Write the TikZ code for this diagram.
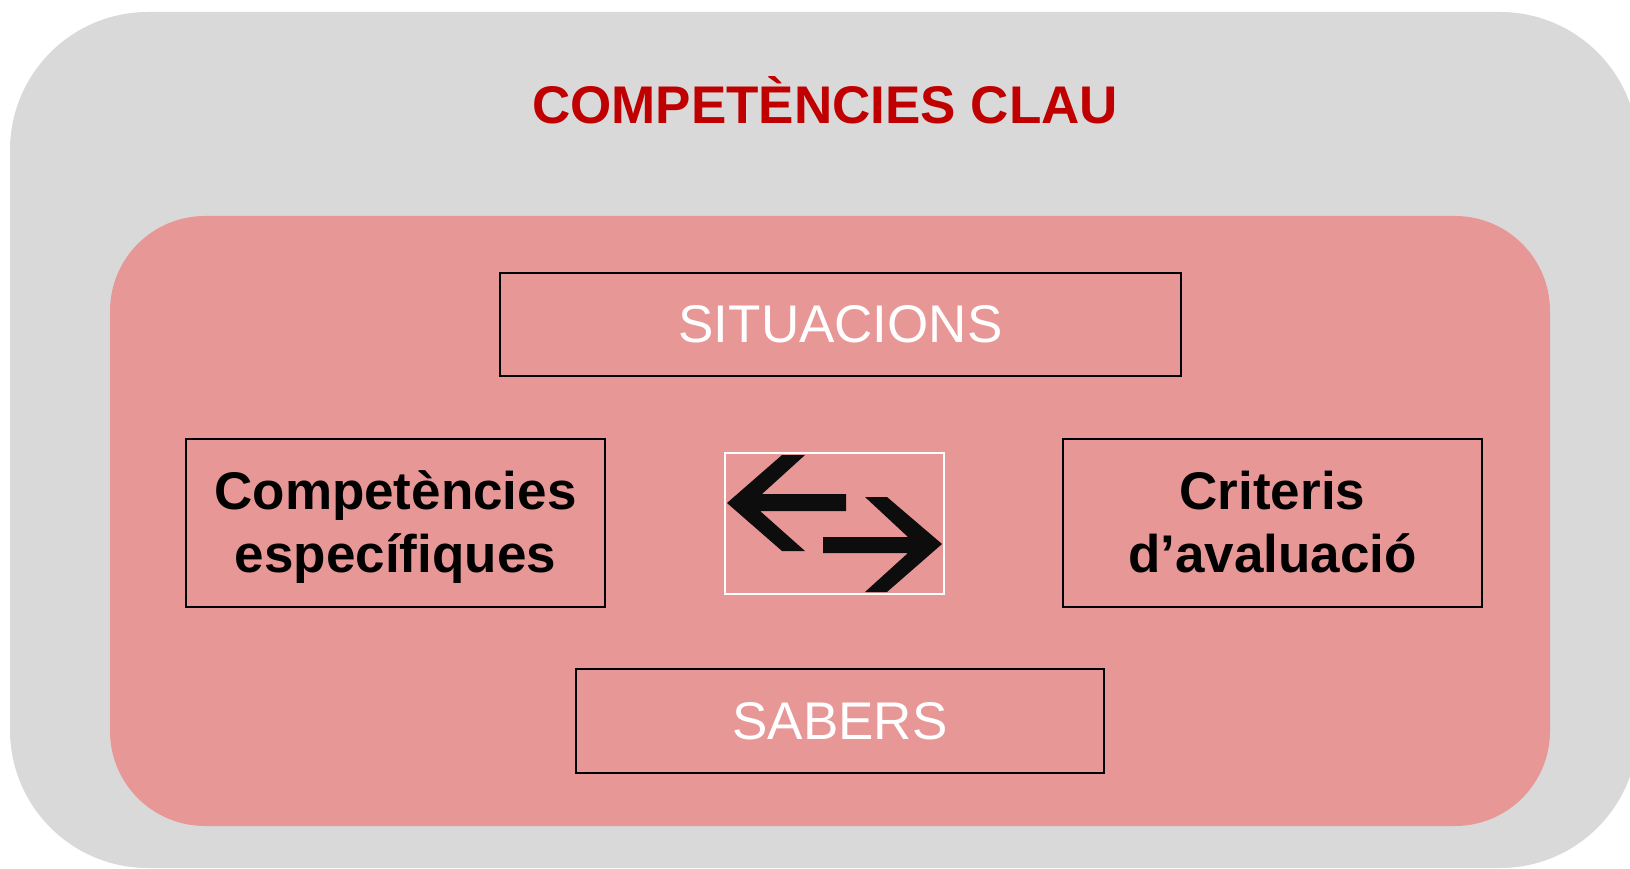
\documentclass[tikz,border=0pt]{standalone}
\usepackage{fontspec}
\setmainfont{Liberation Sans}
\definecolor{fonsgris}{HTML}{D9D9D9}
\definecolor{fonsrosa}{HTML}{E89797}
\definecolor{titolvermell}{HTML}{C00000}
\definecolor{fletxa}{HTML}{0D0D0D}
\newcommand{\igual}{\vphantom{Èg}}
\tikzset{
  caixa/.style={draw=black, line width=1.5pt, inner sep=0pt, align=center},
  blanc/.style={text=white, font=\fontsize{53}{60}\selectfont},
  negreta/.style={text=black, font=\fontsize{53}{63}\selectfont\bfseries},
}
\begin{document}
\begin{tikzpicture}[x=1pt,y=-1pt]
  \clip (0,0) rectangle (1630,869);
  \fill[fonsgris, rounded corners=138pt] (10,12) rectangle (1638,868);
  \fill[fonsrosa, rounded corners=95pt] (110,216) rectangle (1550,826);
  \node[text=titolvermell, font=\fontsize{53}{60}\selectfont\bfseries] (titol) at (825,100) {COMPETÈNCIES CLAU};

  \node[caixa, blanc, minimum width=681pt, minimum height=103pt] (situacions) at (840.5,324.5) {SITUACIONS};
  \node[caixa, negreta, minimum width=419pt, minimum height=168pt] (especifiques) at (395.5,523) {\igual Competències\\\igual específiques};
  \node[caixa, negreta, minimum width=419pt, minimum height=168pt] (criteris) at (1272.5,523) {\igual Criteris\\\igual d’avaluació};
  \node[caixa, blanc, minimum width=528pt, minimum height=104pt] (sabers) at (840,721) {SABERS};
  \node[draw=white, line width=1.5pt, minimum width=219pt, minimum height=141pt] (fletxes) at (834.5,523.5) {};

  % fletxes d'anada i tornada
  \fill[fletxa] (727,503) -- (782,455) -- (805,455) -- (762,494) -- (846,494) -- (846,511)
    -- (760,511) -- (805,551) -- (782,551) -- cycle;
  \fill[fletxa] (942,544) -- (887,497) -- (865,497) -- (908,537) -- (823,537) -- (823,553)
    -- (908,553) -- (865,592) -- (887,592) -- cycle;
\end{tikzpicture}
\end{document}
